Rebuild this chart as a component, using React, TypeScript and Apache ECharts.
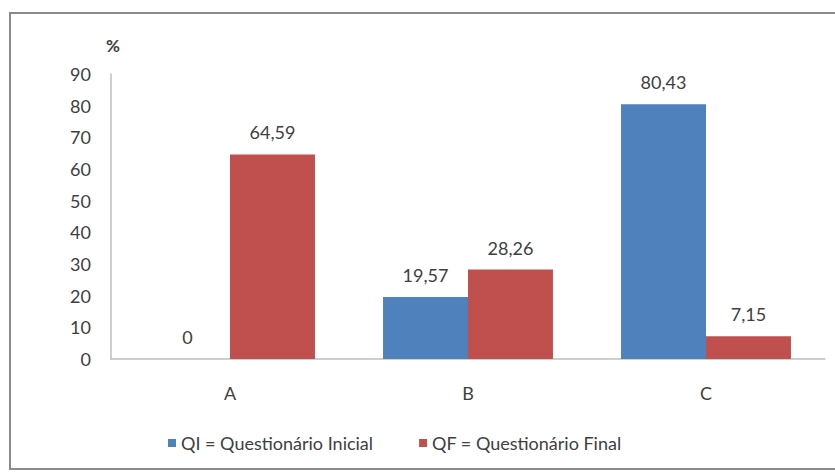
import React, { useEffect, useRef } from "react";
import * as echarts from "echarts";

const categories = ["A", "B", "C"];
const qiValues = [0, 19.57, 80.43];
const qfValues = [64.59, 28.26, 7.15];
const seriesNames = ["QI = Questionário Inicial", "QF = Questionário Final"];
const yTicks = { min: 0, max: 90, interval: 10 };

const FONT = "Lato, 'Open Sans', sans-serif";
const TEXT = "#404040";

export default function App() {
  const ref = useRef<HTMLDivElement>(null);
  useEffect(() => {
    if (!ref.current) return;
    const chart = echarts.init(ref.current, null, { renderer: "svg" });
    const fmt = (p: any) => String(p.value).replace(".", ",");
    chart.setOption({
      animation: false,
      backgroundColor: "#ffffff",
      textStyle: { fontFamily: FONT },
      graphic: [
        {
          type: "rect",
          shape: { x: 10, y: 13, width: 840, height: 456 },
          style: { fill: "none", stroke: "#8a8a8a", lineWidth: 2 },
          silent: true,
        },
        {
          type: "text",
          x: 106,
          y: 37,
          style: { text: "%", fontSize: 17, fontWeight: "bold", fill: TEXT, fontFamily: FONT },
        },
      ],
      legend: {
        bottom: 17,
        left: 163,
        itemWidth: 8,
        itemHeight: 8,
        itemGap: 46,
        icon: "rect",
        textStyle: { fontSize: 18, color: TEXT, fontFamily: FONT },
      },
      grid: { left: 111, right: 10, top: 74, bottom: 115 },
      xAxis: {
        type: "category",
        data: categories,
        axisLine: { lineStyle: { color: "#bfbfbf", width: 1.5 } },
        axisTick: { show: false },
        axisLabel: { fontSize: 18, color: TEXT, margin: 25, fontFamily: FONT },
      },
      yAxis: {
        type: "value",
        min: yTicks.min,
        max: yTicks.max,
        interval: yTicks.interval,
        axisLine: { show: true, lineStyle: { color: "#bfbfbf", width: 1.5 } },
        axisTick: { show: false },
        splitLine: { show: false },
        axisLabel: { fontSize: 18, color: TEXT, margin: 20, fontFamily: FONT },
      },
      series: [
        {
          name: seriesNames[0],
          type: "bar",
          data: qiValues,
          barGap: "0%",
          barCategoryGap: "28.6%",
          itemStyle: { color: "#4f81bd" },
          label: { show: true, position: "top", distance: 13, fontSize: 18, color: TEXT, formatter: fmt, fontFamily: FONT },
        },
        {
          name: seriesNames[1],
          type: "bar",
          data: qfValues,
          barGap: "0%",
          barCategoryGap: "28.6%",
          itemStyle: { color: "#c0504d" },
          label: { show: true, position: "top", distance: 13, fontSize: 18, color: TEXT, formatter: fmt, fontFamily: FONT },
        },
      ],
    });
    return () => chart.dispose();
  }, []);
  return (
    <div
      ref={ref}
      style={{ position: "fixed", left: 0, top: 0, width: 835, height: 474 }}
    />
  );
}
